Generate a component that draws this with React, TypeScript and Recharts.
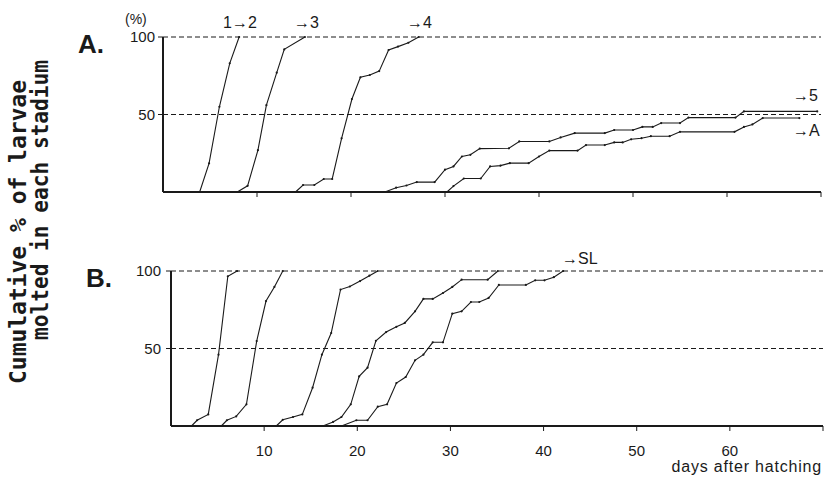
import { LineChart, Line, XAxis, YAxis, ReferenceLine } from "recharts";

// [day, cumulative %]
const aMolt12 = [[3.9, 0], [4.9, 18.5], [6, 55], [7.1, 83], [8.1, 100]];
const aMolt3 = [[7.9, 0], [9, 4], [10.1, 27], [11, 56], [12.1, 77], [12.9, 92], [15.1, 100]];
const aMolt4 = [
  [14.1, 0], [14.9, 4.5], [16.1, 4.5], [17.1, 8.4], [18, 8.4], [19, 34.6], [20.1, 60], [21, 74],
  [22, 75.5], [23, 78], [24, 91.6], [25, 93.8], [26.1, 96.3], [27.2, 100],
];
const aMolt5 = [
  [23.6, 0], [24.8, 2.8], [25.9, 4.2], [27, 6.4], [28.9, 6.4], [30, 14.4], [30.9, 16.5], [31.8, 22.9],
  [32.7, 24], [33.7, 28], [36.8, 28.2], [37.9, 32.6], [41.1, 32.6], [42.3, 35.2], [43.8, 38], [47, 38],
  [48, 40], [50, 40], [51, 42], [52.1, 42], [53, 44.5], [55, 44.5], [55.9, 48], [60.9, 48], [61.8, 52],
  [69.6, 52],
];
const aMoltA = [
  [30.2, 0], [30.9, 3.8], [32, 8.7], [33.8, 8.7], [34.8, 16.5], [35.9, 17], [36.9, 18.6], [38.9, 18.6],
  [40, 22.9], [41.1, 26.7], [44.1, 26.7], [45, 30.3], [47, 30.3], [48, 32], [48.9, 32], [49.8, 34],
  [50.9, 34.7], [51.9, 36], [53.9, 36], [55, 38.8], [60.8, 38.8], [61.8, 42], [62.7, 43.6],
  [63.8, 47.7], [67.7, 47.7],
];

const bMolt1 = [[2.2, 0], [2.8, 3.7], [4, 7.5], [5.1, 46], [6.1, 96.6], [7.1, 100]];
const bMolt2 = [[5.4, 0], [6, 3.7], [7, 6.2], [8.1, 14], [9.2, 54.8], [10.2, 80.6], [11.1, 89.7], [12, 100]];
const bMolt3 = [
  [11.3, 0], [12, 4], [13.1, 5.8], [14.1, 7.5], [15.2, 24.7], [16.2, 46], [17.2, 60], [18.2, 88],
  [19.2, 90], [20.3, 93.5], [21.3, 97], [22.2, 100],
];
const bMolt4 = [
  [16.3, 0], [17.4, 2.6], [18.3, 5.8], [19.3, 14], [20.2, 32], [21.1, 37.6], [22, 55], [23.1, 60.6],
  [24.2, 64], [25.1, 66.5], [26.2, 74], [27.1, 82], [28.1, 82], [29.2, 85.8], [30.2, 89.7],
  [31.2, 94.4], [34, 94.4], [35.1, 100],
];
const bMoltSL = [
  [18.3, 0], [19.9, 3.7], [21.1, 3.7], [22.2, 12.5], [23.2, 14], [24.2, 27.7], [25.2, 31.6],
  [26.2, 42.4], [27.1, 46], [28.1, 54], [29.2, 54], [30.2, 72.5], [31.2, 74], [32.2, 80], [33.1, 80],
  [34.1, 82.6], [35.2, 91], [38.1, 91], [39.1, 94], [40.1, 94], [41.1, 96], [42.1, 100],
];

const dayTicks = [10, 20, 30, 40, 50, 60, 70];
const pctTicks = [50, 100];

const INK = "#1a1a1a";
const SANS = "'Liberation Sans', Arial, sans-serif";

const toPts = (s: number[][]) => s.map(([x, y]) => ({ x, y }));

type PanelProps = {
  series: number[][][];
  top: number;
  height: number;
  left: number;
  right: number;
  bottom: number;
  xAxisHeight: number;
  showDays: boolean;
  yTickMargin: number;
};

function Panel({ series, top, height, left, right, bottom, xAxisHeight, showDays, yTickMargin }: PanelProps) {
  return (
    <div style={{ position: "absolute", top, left: 0 }}>
      <LineChart width={824} height={height} margin={{ top: 37, right, bottom, left }}>
        <XAxis
          type="number"
          dataKey="x"
          domain={[0, 70]}
          ticks={dayTicks}
          allowDataOverflow
          height={xAxisHeight}
          axisLine={{ stroke: INK, strokeWidth: 2 }}
          tickLine={{ stroke: INK }}
          tickSize={5}
          tickMargin={14}
          tick={{ fontSize: 15, fill: INK, fontFamily: SANS }}
          tickFormatter={(v) => (showDays && v < 70 ? String(v) : "")}
        />
        <YAxis
          type="number"
          domain={[0, 100]}
          ticks={pctTicks}
          width={40}
          axisLine={{ stroke: INK, strokeWidth: 2 }}
          tickLine={{ stroke: INK }}
          tickSize={5}
          tickMargin={yTickMargin}
          tick={{ fontSize: 15, fill: INK, fontFamily: SANS }}
        />
        <ReferenceLine y={100} stroke={INK} strokeDasharray="5 3" strokeWidth={1} />
        <ReferenceLine y={50} stroke={INK} strokeDasharray="5 3" strokeWidth={1} />
        {series.map((s, i) => (
          <Line
            key={i}
            data={toPts(s)}
            dataKey="y"
            type="linear"
            stroke={INK}
            strokeWidth={1.1}
            dot={{ r: 1.1, fill: INK, stroke: "none" }}
            isAnimationActive={false}
          />
        ))}
      </LineChart>
    </div>
  );
}

export default function App() {
  return (
    <div style={{ position: "relative", width: 824, height: 477, background: "#fff", overflow: "hidden" }}>
      <style>{"body{margin:0;overflow:hidden}"}</style>
      <Panel
        series={[aMolt12, aMolt3, aMolt4, aMolt5, aMoltA]}
        top={0}
        height={215}
        left={123}
        right={3}
        bottom={3}
        xAxisHeight={20}
        showDays={false}
        yTickMargin={3}
      />
      <Panel
        series={[bMolt1, bMolt2, bMolt3, bMolt4, bMoltSL]}
        top={234}
        height={243}
        left={131}
        right={1}
        bottom={21}
        xAxisHeight={30}
        showDays
        yTickMargin={5}
      />
      <svg
        width={824}
        height={477}
        style={{ position: "absolute", top: 0, left: 0, pointerEvents: "none" }}
      >
        <g fontFamily="'DejaVu Sans Mono', monospace" fontWeight="bold" fontSize={23} fill={INK}>
          <text x={26} y={232} transform="rotate(-90 26 232)" textAnchor="middle" textLength={304} lengthAdjust="spacingAndGlyphs">
            Cumulative % of larvae
          </text>
          <text x={48} y={200} transform="rotate(-90 48 200)" textAnchor="middle" textLength={280} lengthAdjust="spacingAndGlyphs">
            molted in each stadium
          </text>
        </g>
        <g fontFamily={SANS} fill={INK}>
          <text x={78} y={53} fontSize={26} fontWeight="bold">A.</text>
          <text x={86} y={287} fontSize={26} fontWeight="bold">B.</text>
          <text x={125} y={24} fontSize={14}>(%)</text>
          <text x={223} y={28} fontSize={16}>1→2</text>
          <text x={294} y={28} fontSize={16}>→3</text>
          <text x={407} y={28} fontSize={16}>→4</text>
          <text x={793} y={101} fontSize={16}>→5</text>
          <text x={793} y={136} fontSize={16}>→A</text>
          <text x={562} y={264} fontSize={16}>→SL</text>
          <text x={822} y={472} fontSize={16} textAnchor="end" letterSpacing={0.8}>days after hatching</text>
        </g>
      </svg>
    </div>
  );
}
